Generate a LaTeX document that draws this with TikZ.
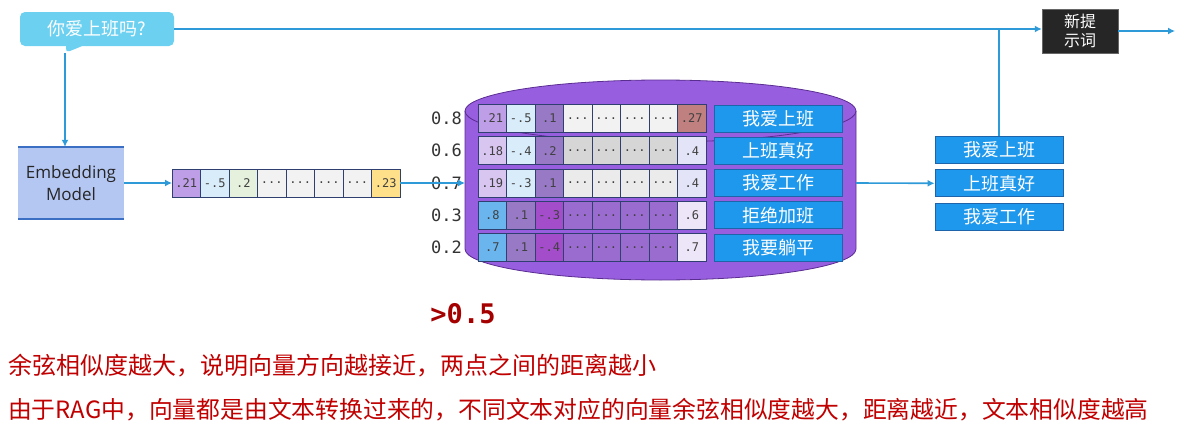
\documentclass[tikz,border=0pt]{standalone}
\usepackage{fontspec}
\setmainfont{Noto Sans CJK SC}
\setmonofont{DejaVu Sans Mono}
\newfontfamily\opensans{Open Sans}
\usepackage{tikz}
\usetikzlibrary{arrows, arrows.meta}
\usetikzlibrary{positioning, shapes.callouts, calc}

\definecolor{linkblue}{RGB}{47,154,216}
\definecolor{qcyan}{RGB}{108,208,240}
\definecolor{embfill}{RGB}{180,198,242}
\definecolor{embline}{RGB}{59,111,196}
\definecolor{dbfill}{RGB}{152,94,224}
\definecolor{dbline}{RGB}{90,45,145}
\definecolor{cellline}{RGB}{47,63,111}
\definecolor{celltext}{RGB}{64,64,64}
\definecolor{tagblue}{RGB}{30,152,236}
\definecolor{tagline}{RGB}{30,100,170}
\definecolor{npgray}{RGB}{38,38,38}
\definecolor{notered}{RGB}{192,0,0}
\definecolor{thrred}{RGB}{165,0,0}
% cell colours
\definecolor{cpurple}{RGB}{190,158,230}
\definecolor{clilac}{RGB}{216,197,240}
\definecolor{cblue}{RGB}{217,236,250}
\definecolor{cgreen}{RGB}{229,241,220}
\definecolor{cmid}{RGB}{151,121,197}
\definecolor{cdot}{RGB}{242,242,242}
\definecolor{cdotgray}{RGB}{214,214,214}
\definecolor{cdotlight}{RGB}{235,235,235}
\definecolor{cyellow}{RGB}{255,224,138}
\definecolor{cbrown}{RGB}{192,128,128}
\definecolor{clav}{RGB}{228,228,248}
\definecolor{csky}{RGB}{107,181,238}
\definecolor{cmagenta}{RGB}{164,77,203}
\definecolor{cviolet}{RGB}{155,108,207}
\definecolor{cpale}{RGB}{237,229,248}

\tikzstyle{flow}=[-{Latex[length=7pt,width=7pt]}, line width=1.6pt, draw=linkblue]
\tikzstyle{link}=[line width=1.6pt, draw=linkblue]
\tikzstyle{cell}=[draw=cellline, line width=0.9pt, outer sep=0pt, inner sep=0pt,
  minimum width=28.5pt, minimum height=28pt, text=celltext,
  font=\ttfamily\fontsize{12}{14}\selectfont]
\tikzset{
    query/.style={rectangle callout, fill=qcyan, rounded corners=5pt,
         minimum width=154pt, minimum height=34pt, text=white,
         callout pointer width=16pt, font=\fontsize{18}{20}\selectfont},
    embed/.style={fill=embfill, minimum width=106pt, minimum height=72pt,
         align=center, text=black!85, font=\opensans\fontsize{17}{22}\selectfont},
    tag/.style={fill=tagblue, draw=tagline, line width=0.8pt, minimum width=128pt,
         minimum height=27pt, inner sep=0pt, text=white, font=\fontsize{18}{20}\selectfont},
    score/.style={text=black!80, inner sep=2pt, font=\ttfamily\fontsize{17}{20}\selectfont},
    note/.style={anchor=west, inner sep=0pt, text=notered, font=\fontsize{24}{28}\selectfont}
}

\begin{document}
\begin{tikzpicture}[x=1pt, y=-1pt, node distance=0pt]
  \useasboundingbox (0,0) rectangle (1184,431);

  % question and model
  \node [query, callout absolute pointer={(65,53)}] (q) at (97,29) {你爱上班吗?};
  \coordinate (q_tip) at (65,53);
  \node [embed] (emb) at (71,183) {Embedding\\Model};
  \draw [embline, line width=2.4pt] (emb.north west) -- (emb.north east);
  \draw [embline, line width=2.4pt] (emb.south west) -- (emb.south east);

  % query vector
  \node [cell, fill=cpurple] (v1) at (186.25,183) {.21};
  \node [cell, right=of v1, fill=cblue] (v2) {-.5};
  \node [cell, right=of v2, fill=cgreen] (v3) {.2};
  \node [cell, right=of v3, fill=cdot] (v4) {...};
  \node [cell, right=of v4, fill=cdot] (v5) {...};
  \node [cell, right=of v5, fill=cdot] (v6) {...};
  \node [cell, right=of v6, fill=cdot] (v7) {...};
  \node [cell, right=of v7, fill=cyellow] (v8) {.23};

  % vector store
  \draw [fill=dbfill, draw=dbline, line width=0.8pt]
     (465,111) -- (465,249)
     arc [start angle=180, end angle=360, x radius=195.5pt, y radius=31pt]
     -- (856,111)
     arc [start angle=0, end angle=180, x radius=195.5pt, y radius=31pt] -- cycle;
  \draw [draw=dbline, line width=0.8pt] (465,111)
     arc [start angle=180, end angle=360, x radius=195.5pt, y radius=31pt];
  \coordinate (db_in) at (465,183);
  \coordinate (db_out) at (856,183);

  % row 1
  \node [cell, fill=cpurple] (r1c1) at (492.25,118.5) {.21};
  \node [cell, right=of r1c1, fill=cblue] (r1c2) {-.5};
  \node [cell, right=of r1c2, fill=cmid] (r1c3) {.1};
  \node [cell, right=of r1c3, fill=cdot] (r1c4) {...};
  \node [cell, right=of r1c4, fill=cdot] (r1c5) {...};
  \node [cell, right=of r1c5, fill=cdot] (r1c6) {...};
  \node [cell, right=of r1c6, fill=cdot] (r1c7) {...};
  \node [cell, right=of r1c7, fill=cbrown] (r1c8) {.27};
  % row 2
  \node [cell, fill=clilac] (r2c1) at (492.25,150.75) {.18};
  \node [cell, right=of r2c1, fill=cblue] (r2c2) {-.4};
  \node [cell, right=of r2c2, fill=cmid] (r2c3) {.2};
  \node [cell, right=of r2c3, fill=cdotgray] (r2c4) {...};
  \node [cell, right=of r2c4, fill=cdotgray] (r2c5) {...};
  \node [cell, right=of r2c5, fill=cdotgray] (r2c6) {...};
  \node [cell, right=of r2c6, fill=cdotgray] (r2c7) {...};
  \node [cell, right=of r2c7, fill=clav] (r2c8) {.4};
  % row 3
  \node [cell, fill=clilac] (r3c1) at (492.25,183) {.19};
  \node [cell, right=of r3c1, fill=cblue] (r3c2) {-.3};
  \node [cell, right=of r3c2, fill=cmid] (r3c3) {.1};
  \node [cell, right=of r3c3, fill=cdotlight] (r3c4) {...};
  \node [cell, right=of r3c4, fill=cdotlight] (r3c5) {...};
  \node [cell, right=of r3c5, fill=cdotlight] (r3c6) {...};
  \node [cell, right=of r3c6, fill=cdotlight] (r3c7) {...};
  \node [cell, right=of r3c7, fill=clav] (r3c8) {.4};
  % row 4
  \node [cell, fill=csky] (r4c1) at (492.25,215.25) {.8};
  \node [cell, right=of r4c1, fill=cmid] (r4c2) {.1};
  \node [cell, right=of r4c2, fill=cmagenta] (r4c3) {-.3};
  \node [cell, right=of r4c3, fill=cviolet] (r4c4) {...};
  \node [cell, right=of r4c4, fill=cviolet] (r4c5) {...};
  \node [cell, right=of r4c5, fill=cviolet] (r4c6) {...};
  \node [cell, right=of r4c6, fill=cviolet] (r4c7) {...};
  \node [cell, right=of r4c7, fill=cpale] (r4c8) {.6};
  % row 5
  \node [cell, fill=csky] (r5c1) at (492.25,247.5) {.7};
  \node [cell, right=of r5c1, fill=cmid] (r5c2) {.1};
  \node [cell, right=of r5c2, fill=cmagenta] (r5c3) {-.4};
  \node [cell, right=of r5c3, fill=cviolet] (r5c4) {...};
  \node [cell, right=of r5c4, fill=cviolet] (r5c5) {...};
  \node [cell, right=of r5c5, fill=cviolet] (r5c6) {...};
  \node [cell, right=of r5c6, fill=cviolet] (r5c7) {...};
  \node [cell, right=of r5c7, fill=cpale] (r5c8) {.7};

  % texts of the rows
  \node [tag, right=8pt of r1c8] (t1) {我爱上班};
  \node [tag, right=8pt of r2c8] (t2) {上班真好};
  \node [tag, right=8pt of r3c8] (t3) {我爱工作};
  \node [tag, right=8pt of r4c8] (t4) {拒绝加班};
  \node [tag, right=8pt of r5c8] (t5) {我要躺平};

  % similarity scores
  \node [score, left=14pt of r1c1] (s1) {0.8};
  \node [score, left=14pt of r2c1] (s2) {0.6};
  \node [score, left=14pt of r3c1] (s3) {0.7};
  \node [score, left=14pt of r4c1] (s4) {0.3};
  \node [score, left=14pt of r5c1] (s5) {0.2};

  % results and new prompt
  \node [tag] (res1) at (999,149.5) {我爱上班};
  \node [tag, below=6pt of res1] (res2) {上班真好};
  \node [tag, below=6pt of res2] (res3) {我爱工作};
  \node [fill=npgray, draw=black!60, minimum width=76pt, minimum height=44pt,
         align=center, text=white, font=\fontsize{16}{19}\selectfont] (np) at (1080,31) {新提\\示词};
  \coordinate (j) at (res1.north |- q.east);
  \coordinate (out) at (1175,31);

  % threshold and notes
  \node [text=thrred, font=\ttfamily\bfseries\fontsize{27}{30}\selectfont] (thr) at (463,314) {>0.5};
  \node [note] (n1) at (8,366) {余弦相似度越大，说明向量方向越接近，两点之间的距离越小};
  \node [note, font=\fontsize{23.8}{28}\selectfont] (n2) at (8,410) {由于RAG中，向量都是由文本转换过来的，不同文本对应的向量余弦相似度越大，距离越近，文本相似度越高};

  % connectors
  \draw [flow] (q_tip) -- (q_tip |- emb.north);
  \draw [flow] (emb.east) -- (v1.west);
  \draw [flow] (v8.east) -- (db_in);
  \draw [flow] (db_out) -- (res2.west);
  \draw [flow] (q.east) -- (q.east -| np.west);
  \draw [link] (res1.north) -- (j);
  \draw [flow] (np.east) -- (out);
\end{tikzpicture}
\end{document}
